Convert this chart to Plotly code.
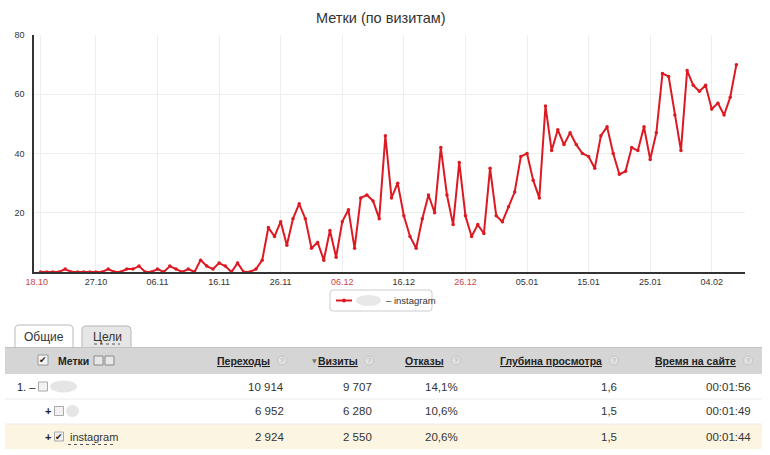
import plotly.graph_objects as go
from datetime import datetime, timedelta

# ---------------- data ----------------
start_date = datetime(2015, 10, 18)
visits = [
    0, 0, 0, 0, 1, 0, 0, 0, 0, 0,
    0, 1, 0, 0, 1, 1, 2, 0, 0, 1,
    0, 2, 1, 0, 1, 0, 4, 2, 1, 3,
    2, 0, 3, 0, 0, 1, 4, 15, 12, 17,
    9, 18, 23, 18, 8, 10, 4, 14, 5, 17,
    21, 8, 25, 26, 24, 18, 46, 25, 30, 19,
    12, 8, 18, 26, 20, 42, 26, 16, 37, 19,
    12, 16, 13, 35, 19, 17, 22, 27, 39, 40,
    31, 25, 56, 41, 48, 43, 47, 43, 40, 39,
    35, 46, 49, 40, 33, 34, 42, 41, 49, 38,
    47, 67, 66, 53, 41, 68, 63, 61, 63, 55, 57, 53, 59, 70,
]
dates = [start_date + timedelta(days=i) for i in range(len(visits))]

tick_dates = ["2015-10-18", "2015-10-27", "2015-11-06", "2015-11-16", "2015-11-26",
              "2015-12-06", "2015-12-16", "2015-12-26", "2016-01-05", "2016-01-15",
              "2016-01-25", "2016-02-04"]
tick_labels = ["18.10", "27.10", "06.11", "16.11", "26.11", "06.12", "16.12",
               "26.12", "05.01", "15.01", "25.01", "04.02"]
weekend_labels = ["18.10", "06.12", "26.12"]
y_ticks = [20, 40, 60, 80]

chart_title = "Метки (по визитам)"
series_name = "instagram"

tab_labels = ["Общие", "Цели"]
header_labels = ["Переходы", "Визиты", "Отказы", "Глубина просмотра", "Время на сайте"]
row_prefix = ["1. –", "+", "+"]
row_names = ["", "", "instagram"]
col_perehody = ["10 914", "6 952", "2 924"]
col_vizity = ["9 707", "6 280", "2 550"]
col_otkazy = ["14,1%", "10,6%", "20,6%"]
col_glubina = ["1,6", "1,5", "1,5"]
col_vremya = ["00:01:56", "00:01:49", "00:01:44"]

# ---------------- helpers ----------------
W, H = 770, 455
def px(x):
    return x / W
def py(y):
    return 1 - y / H

FONT = "Liberation Sans, Arial, sans-serif"
RED = "#dc1a22"

shapes = []
annotations = []

def ann(x, y, text, size=11, color="#333", family=FONT, xanchor="center"):
    annotations.append(dict(x=px(x), y=py(y), xref="paper", yref="paper",
                            text=text, showarrow=False, xanchor=xanchor,
                            yanchor="middle",
                            font=dict(size=size, color=color, family=family)))

def rect(x0, y0, x1, y1, fill, line_color=None, lw=1, layer="above"):
    shapes.append(dict(type="rect", xref="paper", yref="paper",
                       x0=px(x0), x1=px(x1), y0=py(y1), y1=py(y0), layer=layer,
                       line=dict(color=line_color or "rgba(0,0,0,0)", width=lw if line_color else 0),
                       fillcolor=fill))

def rounded(x0, y0, x1, y1, r, fill, line_color, top_only=False):
    def P(x, y):
        return f"{px(x):.5f},{py(y):.5f}"
    if top_only:
        path = (f"M{P(x0, y1)} L{P(x0, y0 + r)} Q{P(x0, y0)} {P(x0 + r, y0)} "
                f"L{P(x1 - r, y0)} Q{P(x1, y0)} {P(x1, y0 + r)} L{P(x1, y1)} Z")
    else:
        path = (f"M{P(x0 + r, y0)} L{P(x1 - r, y0)} Q{P(x1, y0)} {P(x1, y0 + r)} "
                f"L{P(x1, y1 - r)} Q{P(x1, y1)} {P(x1 - r, y1)} "
                f"L{P(x0 + r, y1)} Q{P(x0, y1)} {P(x0, y1 - r)} "
                f"L{P(x0, y0 + r)} Q{P(x0, y0)} {P(x0 + r, y0)} Z")
    shapes.append(dict(type="path", xref="paper", yref="paper", path=path,
                       line=dict(color=line_color, width=1), fillcolor=fill))

def hline(x0, x1, y, color, width=1, dash="solid"):
    shapes.append(dict(type="line", xref="paper", yref="paper",
                       x0=px(x0), x1=px(x1), y0=py(y), y1=py(y),
                       line=dict(color=color, width=width, dash=dash)))

def ellipse(x0, y0, x1, y1, fill, line_color=None):
    shapes.append(dict(type="circle", xref="paper", yref="paper",
                       x0=px(x0), x1=px(x1), y0=py(y1), y1=py(y0),
                       line=dict(color=line_color or "rgba(0,0,0,0)", width=1 if line_color else 0),
                       fillcolor=fill))

fig = go.Figure()
fig.add_trace(go.Scatter(
    x=dates, y=visits, mode="lines+markers",
    name=series_name, showlegend=False,
    line=dict(color=RED, width=2),
    marker=dict(color=RED, size=3.5),
))

ticktext = []
for t in tick_labels:
    lab = f"<span style='color:#c9444b'>{t}</span>" if t in weekend_labels else t
    if t == tick_labels[0]:
        lab = lab + "&nbsp;&nbsp;&nbsp;"
    ticktext.append(lab)

x0 = start_date - timedelta(days=1.06)
x1 = start_date + timedelta(days=114.4)

# title
ann(381, 18, chart_title, size=14.5, color="#333")

# ---------- legend (drawn) ----------
rounded(330, 290, 432, 311, 3, "#ffffff", "#cccccc")
hline(336, 352, 300.5, RED, 2)
ellipse(342, 298.5, 346, 302.5, RED)
ellipse(356, 295, 381, 306, "rgba(190,190,190,0.35)")
ann(384, 300.5, "– " + series_name, size=9.5, color="#333", xanchor="left")

# ---------- tabs ----------
rounded(15, 325, 73, 348, 4, "#ffffff", "#b8b8b8", top_only=True)
rounded(82, 326, 131, 348, 4, "#e6e6e6", "#b8b8b8", top_only=True)
ann(44, 337, tab_labels[0], size=12)
ann(107, 337, tab_labels[1], size=12)
hline(94, 120, 344, "#556", 1, "dot")

# ---------- header ----------
rect(5, 347, 762, 374, "#d5d5d5")
hline(5, 762, 347.5, "#c2c2c2")
rect(38, 355, 48, 365, "#f4f4f4", "#999")
ann(43, 360, "✔", size=9, color="#222", family="DejaVu Sans")
ann(56, 360.5, "<b>Метки</b>", size=10.5, color="#222", xanchor="left")
for ix in (94, 105):
    rect(ix, 356, ix + 9, 365, "#e8e8e8", "#888")

header_right = [272, 360, 446, 604, 738]
q_pos = [282, 369, 456, 614, 748]
for i, lab in enumerate(header_labels):
    ann(header_right[i], 360.5, f"<b><u>{lab}</u></b>", size=10.5, color="#222", xanchor="right")
    ellipse(q_pos[i] - 4.5, 356, q_pos[i] + 4.5, 365, "#e2e2e2", "#c4c4c4")
    ann(q_pos[i], 360.5, "?", size=7, color="#aaa")
ann(314, 360.5, "▼", size=6, color="#777", family="DejaVu Sans")

# ---------- rows ----------
row_centers = [386.5, 411, 436.5]
rect(5, 424, 762, 449, "#fcf5e2", layer="below")
for yb in (399, 424):
    hline(5, 762, yb, "#ececec")

value_cols = [col_perehody, col_vizity, col_otkazy, col_glubina, col_vremya]
value_right = [286, 374, 460, 619, 753]
prefix_x = [15, 43, 43]
checkbox_x = [43, 59, 59]
for r in range(3):
    yc = row_centers[r]
    ann(prefix_x[r], yc, f"<b>{row_prefix[r]}</b>" if r else row_prefix[r],
        size=11, color="#222", xanchor="left")
    cx = checkbox_x[r]
    rect(cx - 4.5, yc - 4.5, cx + 4.5, yc + 4.5, "#f2f2f2", "#aaa")
    if row_names[r]:
        ann(cx, yc, "✔", size=9, color="#222", family="DejaVu Sans")
        ann(68, yc + 0.5, row_names[r], size=11, color="#333", xanchor="left")
        hline(68, 113, yc + 8, "#556", 1, "dot")
    else:
        bx0, bx1 = (50, 77) if r == 0 else (66, 79)
        ellipse(bx0, yc - 6, bx1, yc + 6, "rgba(180,180,180,0.35)")
    for c in range(5):
        ann(value_right[c], yc, value_cols[c][r], size=11.5, color="#333", xanchor="right")

fig.update_layout(
    width=W, height=H,
    margin=dict(l=0, r=0, t=0, b=0),
    paper_bgcolor="white", plot_bgcolor="white",
    showlegend=False,
    xaxis=dict(domain=[px(34), px(745)], type="date", range=[x0, x1],
               tickmode="array", tickvals=tick_dates, ticktext=ticktext,
               showgrid=True, gridcolor="#eeeeee", gridwidth=1,
               showline=True, linecolor="#333", linewidth=1.5,
               ticks="", tickfont=dict(size=9, color="#333", family=FONT),
               zeroline=False, fixedrange=True, automargin=False),
    yaxis=dict(domain=[py(272), py(35)], range=[0, 80],
               tickmode="array", tickvals=y_ticks,
               showgrid=True, gridcolor="#eeeeee", gridwidth=1,
               showline=True, linecolor="#333", linewidth=1.5,
               ticks="", ticklabelstandoff=6,
               tickfont=dict(size=9, color="#333", family=FONT),
               zeroline=False, fixedrange=True, automargin=False),
    shapes=shapes,
    annotations=annotations,
)

fig.write_html("out.html", config={"displayModeBar": False},
               post_script="document.body.style.margin='0';")
